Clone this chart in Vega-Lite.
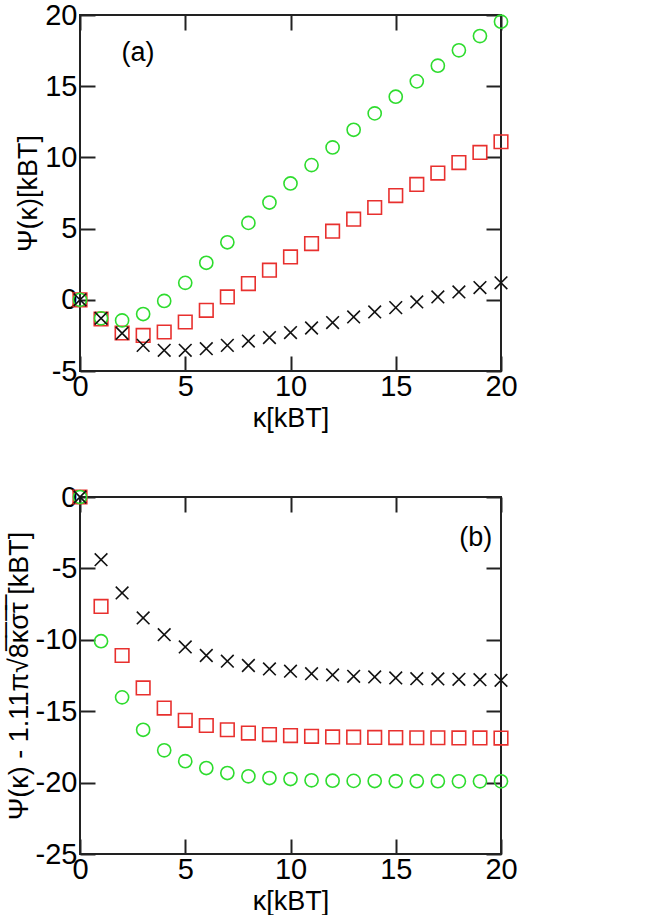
{
  "$schema": "https://vega.github.io/schema/vega-lite/v6.json",
  "padding": {"left": 4, "top": 0, "right": 5, "bottom": 0},
  "background": "white",
  "config": {
    "font": "Liberation Sans",
    "view": {"stroke": "#222", "strokeWidth": 2},
    "axis": {
      "domain": false,
      "grid": false,
      "labelFont": "Liberation Sans",
      "titleFont": "Liberation Sans",
      "labelFontSize": 29,
      "titleFontSize": 27,
      "titleFontWeight": "normal",
      "labelColor": "black",
      "titleColor": "black",
      "tickColor": "#222",
      "tickWidth": 2,
      "tickSize": -15,
      "labelFlush": false,
      "labelOverlap": false,
      "labelExpr": "toString(datum.value)"
    }
  },
  "spacing": 50,
  "datasets": {
    "pts": [
      {"p":"a","s":"sq","k":0,"v":0},{"p":"a","s":"sq","k":1,"v":-1.35},{"p":"a","s":"sq","k":2,"v":-2.33},{"p":"a","s":"sq","k":3,"v":-2.5},{"p":"a","s":"sq","k":4,"v":-2.26},{"p":"a","s":"sq","k":5,"v":-1.56},{"p":"a","s":"sq","k":6,"v":-0.74},{"p":"a","s":"sq","k":7,"v":0.2},{"p":"a","s":"sq","k":8,"v":1.14},{"p":"a","s":"sq","k":9,"v":2.08},{"p":"a","s":"sq","k":10,"v":3.01},{"p":"a","s":"sq","k":11,"v":3.95},{"p":"a","s":"sq","k":12,"v":4.82},{"p":"a","s":"sq","k":13,"v":5.66},{"p":"a","s":"sq","k":14,"v":6.48},{"p":"a","s":"sq","k":15,"v":7.32},{"p":"a","s":"sq","k":16,"v":8.1},{"p":"a","s":"sq","k":17,"v":8.9},{"p":"a","s":"sq","k":18,"v":9.64},{"p":"a","s":"sq","k":19,"v":10.35},{"p":"a","s":"sq","k":20,"v":11.1},
      {"p":"a","s":"ci","k":0,"v":0},{"p":"a","s":"ci","k":1,"v":-1.3},{"p":"a","s":"ci","k":2,"v":-1.45},{"p":"a","s":"ci","k":3,"v":-1.0},{"p":"a","s":"ci","k":4,"v":-0.08},{"p":"a","s":"ci","k":5,"v":1.19},{"p":"a","s":"ci","k":6,"v":2.6},{"p":"a","s":"ci","k":7,"v":4.04},{"p":"a","s":"ci","k":8,"v":5.4},{"p":"a","s":"ci","k":9,"v":6.83},{"p":"a","s":"ci","k":10,"v":8.17},{"p":"a","s":"ci","k":11,"v":9.46},{"p":"a","s":"ci","k":12,"v":10.7},{"p":"a","s":"ci","k":13,"v":11.94},{"p":"a","s":"ci","k":14,"v":13.09},{"p":"a","s":"ci","k":15,"v":14.26},{"p":"a","s":"ci","k":16,"v":15.34},{"p":"a","s":"ci","k":17,"v":16.44},{"p":"a","s":"ci","k":18,"v":17.52},{"p":"a","s":"ci","k":19,"v":18.52},{"p":"a","s":"ci","k":20,"v":19.53},
      {"p":"a","s":"x","k":0,"v":0},{"p":"a","s":"x","k":1,"v":-1.3},{"p":"a","s":"x","k":2,"v":-2.35},{"p":"a","s":"x","k":3,"v":-3.2},{"p":"a","s":"x","k":4,"v":-3.55},{"p":"a","s":"x","k":5,"v":-3.55},{"p":"a","s":"x","k":6,"v":-3.43},{"p":"a","s":"x","k":7,"v":-3.2},{"p":"a","s":"x","k":8,"v":-2.9},{"p":"a","s":"x","k":9,"v":-2.65},{"p":"a","s":"x","k":10,"v":-2.3},{"p":"a","s":"x","k":11,"v":-1.98},{"p":"a","s":"x","k":12,"v":-1.6},{"p":"a","s":"x","k":13,"v":-1.2},{"p":"a","s":"x","k":14,"v":-0.85},{"p":"a","s":"x","k":15,"v":-0.55},{"p":"a","s":"x","k":16,"v":-0.15},{"p":"a","s":"x","k":17,"v":0.2},{"p":"a","s":"x","k":18,"v":0.55},{"p":"a","s":"x","k":19,"v":0.86},{"p":"a","s":"x","k":20,"v":1.19},
      {"p":"b","s":"sq","k":0,"v":0},{"p":"b","s":"sq","k":1,"v":-7.66},{"p":"b","s":"sq","k":2,"v":-11.1},{"p":"b","s":"sq","k":3,"v":-13.37},{"p":"b","s":"sq","k":4,"v":-14.78},{"p":"b","s":"sq","k":5,"v":-15.64},{"p":"b","s":"sq","k":6,"v":-16.0},{"p":"b","s":"sq","k":7,"v":-16.3},{"p":"b","s":"sq","k":8,"v":-16.53},{"p":"b","s":"sq","k":9,"v":-16.64},{"p":"b","s":"sq","k":10,"v":-16.71},{"p":"b","s":"sq","k":11,"v":-16.76},{"p":"b","s":"sq","k":12,"v":-16.8},{"p":"b","s":"sq","k":13,"v":-16.82},{"p":"b","s":"sq","k":14,"v":-16.84},{"p":"b","s":"sq","k":15,"v":-16.85},{"p":"b","s":"sq","k":16,"v":-16.86},{"p":"b","s":"sq","k":17,"v":-16.86},{"p":"b","s":"sq","k":18,"v":-16.87},{"p":"b","s":"sq","k":19,"v":-16.87},{"p":"b","s":"sq","k":20,"v":-16.88},
      {"p":"b","s":"ci","k":0,"v":0},{"p":"b","s":"ci","k":1,"v":-10.1},{"p":"b","s":"ci","k":2,"v":-14.03},{"p":"b","s":"ci","k":3,"v":-16.3},{"p":"b","s":"ci","k":4,"v":-17.74},{"p":"b","s":"ci","k":5,"v":-18.5},{"p":"b","s":"ci","k":6,"v":-18.98},{"p":"b","s":"ci","k":7,"v":-19.33},{"p":"b","s":"ci","k":8,"v":-19.56},{"p":"b","s":"ci","k":9,"v":-19.68},{"p":"b","s":"ci","k":10,"v":-19.75},{"p":"b","s":"ci","k":11,"v":-19.84},{"p":"b","s":"ci","k":12,"v":-19.87},{"p":"b","s":"ci","k":13,"v":-19.88},{"p":"b","s":"ci","k":14,"v":-19.89},{"p":"b","s":"ci","k":15,"v":-19.9},{"p":"b","s":"ci","k":16,"v":-19.9},{"p":"b","s":"ci","k":17,"v":-19.9},{"p":"b","s":"ci","k":18,"v":-19.91},{"p":"b","s":"ci","k":19,"v":-19.91},{"p":"b","s":"ci","k":20,"v":-19.91},
      {"p":"b","s":"x","k":0,"v":0},{"p":"b","s":"x","k":1,"v":-4.39},{"p":"b","s":"x","k":2,"v":-6.72},{"p":"b","s":"x","k":3,"v":-8.47},{"p":"b","s":"x","k":4,"v":-9.64},{"p":"b","s":"x","k":5,"v":-10.5},{"p":"b","s":"x","k":6,"v":-11.1},{"p":"b","s":"x","k":7,"v":-11.5},{"p":"b","s":"x","k":8,"v":-11.8},{"p":"b","s":"x","k":9,"v":-12.04},{"p":"b","s":"x","k":10,"v":-12.2},{"p":"b","s":"x","k":11,"v":-12.37},{"p":"b","s":"x","k":12,"v":-12.46},{"p":"b","s":"x","k":13,"v":-12.56},{"p":"b","s":"x","k":14,"v":-12.6},{"p":"b","s":"x","k":15,"v":-12.67},{"p":"b","s":"x","k":16,"v":-12.72},{"p":"b","s":"x","k":17,"v":-12.74},{"p":"b","s":"x","k":18,"v":-12.77},{"p":"b","s":"x","k":19,"v":-12.79},{"p":"b","s":"x","k":20,"v":-12.84}
    ],
    "labels": [
      {"p":"a","k":2.75,"v":17.3,"t":"(a)"},
      {"p":"b","k":18.8,"v":-2.9,"t":"(b)"}
    ]
  },
  "vconcat": [
    {
      "width": 421,
      "height": 356,
      "resolve": {"axis": {"x": "independent", "y": "independent"}},
      "layer": [
        {
          "data": {"name": "pts"},
          "transform": [{"filter": "datum.p === 'a'"}],
          "mark": {"type": "point", "filled": false, "strokeWidth": 1.6, "opacity": 1, "clip": false},
          "encoding": {
            "x": {"field": "k", "type": "quantitative", "scale": {"domain": [0, 20], "nice": false, "zero": false},
                  "axis": {"orient": "bottom", "values": [0,5,10,15,20], "title": "κ[kBT]", "labelPadding": 16, "titlePadding": 4}},
            "y": {"field": "v", "type": "quantitative", "scale": {"domain": [-5, 20], "nice": false, "zero": false},
                  "axis": {"orient": "left", "values": [-5,0,5,10,15,20], "title": "Ψ(κ)[kBT]", "labelPadding": 18, "titlePadding": 2}},
            "color": {"field": "s", "type": "nominal", "legend": null,
                      "scale": {"domain": ["sq","ci","x"], "range": ["#e8302e", "#2edc2e", "#111111"]}},
            "shape": {"field": "s", "type": "nominal", "legend": null,
                      "scale": {"domain": ["sq","ci","x"], "range": ["square", "circle", "M-1,-1L1,1M-1,1L1,-1"]}},
            "size": {"field": "s", "type": "ordinal", "legend": null,
                     "scale": {"domain": ["sq","ci","x"], "range": [185, 160, 240]}}
          }
        },
        {
          "data": {"name": "labels"},
          "transform": [{"filter": "datum.p === 'a'"}],
          "mark": {"type": "text", "fontSize": 27, "font": "Liberation Sans", "color": "black"},
          "encoding": {
            "x": {"field": "k", "type": "quantitative", "axis": {"orient": "top", "values": [0,5,10,15,20], "labels": false, "title": null}},
            "y": {"field": "v", "type": "quantitative", "axis": {"orient": "right", "values": [-5,0,5,10,15,20], "labels": false, "title": null}},
            "text": {"field": "t"}
          }
        }
      ]
    },
    {
      "width": 421,
      "height": 357,
      "resolve": {"axis": {"x": "independent", "y": "independent"}},
      "layer": [
        {
          "data": {"name": "pts"},
          "transform": [{"filter": "datum.p === 'b'"}],
          "mark": {"type": "point", "filled": false, "strokeWidth": 1.6, "opacity": 1, "clip": false},
          "encoding": {
            "x": {"field": "k", "type": "quantitative", "scale": {"domain": [0, 20], "nice": false, "zero": false},
                  "axis": {"orient": "bottom", "values": [0,5,10,15,20], "title": "κ[kBT]", "labelPadding": 16, "titlePadding": 4}},
            "y": {"field": "v", "type": "quantitative", "scale": {"domain": [-25, 0], "nice": false, "zero": false},
                  "axis": {"orient": "left", "values": [-25,-20,-15,-10,-5,0], "title": "Ψ(κ) - 1.11π√8̅κ̅σ̅τ̅  [kBT]", "labelPadding": 18, "titlePadding": 2}},
            "color": {"field": "s", "type": "nominal", "legend": null,
                      "scale": {"domain": ["sq","ci","x"], "range": ["#e8302e", "#2edc2e", "#111111"]}},
            "shape": {"field": "s", "type": "nominal", "legend": null,
                      "scale": {"domain": ["sq","ci","x"], "range": ["square", "circle", "M-1,-1L1,1M-1,1L1,-1"]}},
            "size": {"field": "s", "type": "ordinal", "legend": null,
                     "scale": {"domain": ["sq","ci","x"], "range": [185, 160, 240]}}
          }
        },
        {
          "data": {"name": "labels"},
          "transform": [{"filter": "datum.p === 'b'"}],
          "mark": {"type": "text", "fontSize": 27, "font": "Liberation Sans", "color": "black"},
          "encoding": {
            "x": {"field": "k", "type": "quantitative", "axis": {"orient": "top", "values": [0,5,10,15,20], "labels": false, "title": null}},
            "y": {"field": "v", "type": "quantitative", "axis": {"orient": "right", "values": [-25,-20,-15,-10,-5,0], "labels": false, "title": null}},
            "text": {"field": "t"}
          }
        }
      ]
    }
  ]
}
